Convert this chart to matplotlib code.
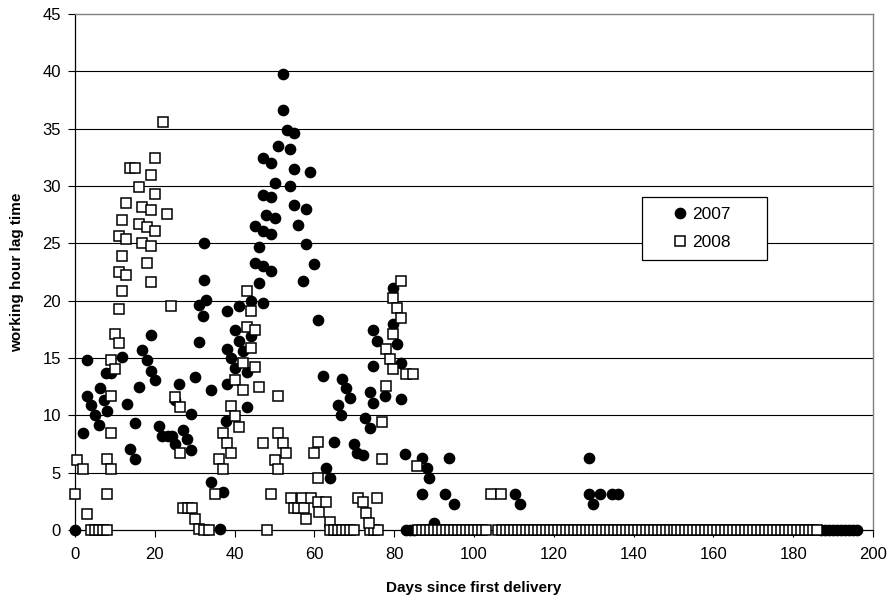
import matplotlib
matplotlib.use("Agg")
import matplotlib.pyplot as plt
from matplotlib.patches import Rectangle

plt.rcParams["font.family"] = ["Liberation Sans", "DejaVu Sans"]

# --- 2007 (filled circles) ---
days_2007 = [
    0, 1.9, 3.0, 3.0, 4.0, 4.9, 5.9, 6.2, 7.2, 8.0, 7.7, 8.9,
    11.8, 13.1, 13.9, 15.0, 15.0, 16.0, 16.9, 18.0, 19.0, 20.0, 19.0,
    21.1, 21.9, 23.2, 24.2, 25.1, 25.1, 26.0, 27.1, 28.1, 29.1, 29.1, 30.0,
    31.1, 31.1, 32.2, 32.9, 32.3, 32.3, 34.0, 34.0, 36.3, 37.1,
    52.1, 52.1, 53.2, 55.0, 51.0, 54.0, 47.1, 49.2, 55.0, 59.0, 50.2, 54.0,
    47.1, 49.2, 55.0, 57.9, 47.9, 50.2, 56.0, 45.0, 47.1, 49.2, 46.1, 57.9,
    45.0, 47.1, 49.2, 60.0, 46.1, 57.1, 44.0, 47.1, 41.1, 38.2, 60.8, 40.0,
    41.1, 44.0, 38.2, 42.1, 39.2, 40.0, 43.2, 38.2, 43.2, 37.9, 62.1, 65.8,
    66.7, 65.0, 62.9, 64.0,
    79.6, 79.6, 74.8, 75.8, 80.8, 74.8, 81.8, 66.9, 67.9, 69.0, 74.0, 74.8,
    77.8, 81.8, 72.8, 74.0, 69.8, 70.8, 72.1,
    82.8, 86.9, 93.8, 88.2, 88.8, 86.9, 92.7, 94.9, 89.9, 83, 84, 85,
    128.8, 110.3, 111.5, 128.8, 129.9, 131.6, 134.5, 136.0,
    187, 188, 189, 190, 191, 192, 193, 194, 195, 196,
]
lag_2007 = [
    0, 8.5, 14.8, 11.7, 10.9, 10.0, 9.2, 12.4, 11.3, 10.4, 13.7, 13.7,
    15.1, 11.0, 7.1, 6.2, 9.3, 12.5, 15.7, 14.8, 13.9, 13.1, 17.0,
    9.1, 8.2, 8.2, 8.2, 7.5, 11.3, 12.7, 8.7, 7.9, 7.0, 10.1, 13.3,
    16.4, 19.6, 18.7, 20.1, 21.8, 25.0, 12.2, 4.2, 0.1, 3.3,
    39.8, 36.6, 34.9, 34.6, 33.5, 33.2, 32.4, 32.0, 31.5, 31.2, 30.3, 30.0,
    29.2, 29.0, 28.3, 28.0, 27.5, 27.2, 26.6, 26.5, 26.1, 25.8, 24.7, 24.9,
    23.3, 23.0, 22.6, 23.2, 21.5, 21.7, 20.0, 19.8, 19.5, 19.1, 18.3, 17.4,
    16.5, 16.9, 15.8, 15.6, 15.0, 14.1, 13.8, 12.7, 10.7, 9.5, 13.4, 10.9,
    10.0, 7.7, 5.4, 4.5,
    21.1, 18.0, 17.4, 16.5, 16.2, 14.3, 14.6, 13.2, 12.4, 11.5, 12.0, 11.1,
    11.7, 11.4, 9.8, 8.9, 7.5, 6.7, 6.5,
    6.6, 6.3, 6.3, 5.4, 4.5, 3.1, 3.1, 2.3, 0.6, 0, 0, 0,
    6.3, 3.1, 2.3, 3.1, 2.3, 3.1, 3.1, 3.1,
    0, 0, 0, 0, 0, 0, 0, 0, 0, 0,
]

# --- 2008 (open squares) ---
days_2008 = [
    22.1, 20.1, 13.9, 15.0, 19.0, 16.0, 20.1, 12.9, 16.9, 19.0, 23.0, 11.8,
    16.0, 18.1, 20.1, 11.0, 12.9, 16.9, 19.0, 11.8, 18.0, 11.0, 12.9, 19.0,
    11.8, 11.0, 24.1, 10.0, 11.0, 8.9, 10.0, 8.9, 8.9, 0.6, 1.9, 8.0, 8.9,
    0, 8.0, 2.9, 25.1, 26.2, 26.2, 27.0, 28.2, 29.2, 30.1,
    4, 5, 6, 7, 8, 31.2, 32.4, 33.7,
    43.2, 44.0, 43.2, 45.0, 44.0, 45.0, 42.1, 40.0, 42.1, 46.1, 51.0, 39.0,
    40.0, 41.1, 37.1, 38.2, 39.2, 36.0, 37.1, 35.0, 47.1, 51.0, 52.1, 52.9,
    50.0, 51.0, 49.0, 60.8, 60.0, 60.8,
    54.2, 55.0, 56.0, 57.0, 57.5, 58.0, 59.2, 60.8, 61.2, 62.9, 63.9,
    48, 64, 65, 66, 67, 68, 69, 70, 74, 75, 76,
    81.8, 79.6, 80.8, 81.8, 79.8, 77.9, 79.0, 79.8, 82.9, 84.8, 77.9, 76.9,
    76.9, 85.7, 71.0, 72.1, 72.9, 73.8, 75.8,
    104.3, 106.8,
    86, 87, 88, 89, 90, 91, 92, 93, 94, 95, 96, 97, 98, 99, 100, 101, 102,
    103, 106, 107, 108, 109, 110, 111, 112, 113, 114, 115, 116, 117, 118,
    119, 120, 121, 122, 123, 124, 125, 126, 127, 128, 129, 130, 131, 132,
    133, 134, 135, 136, 137, 138, 139, 140, 141, 142, 143, 144, 145, 146,
    147, 148, 149, 150, 151, 152, 153, 154, 155, 156, 157, 158, 159, 160,
    161, 162, 163, 164, 165, 166, 167, 168, 169, 170, 171, 172, 173, 174,
    175, 176, 177, 178, 179, 180, 181, 182, 183, 184, 185, 186,
]
lag_2008 = [
    35.6, 32.4, 31.6, 31.6, 31.0, 29.9, 29.3, 28.5, 28.2, 27.9, 27.6, 27.0,
    26.7, 26.4, 26.1, 25.6, 25.4, 25.0, 24.8, 23.9, 23.3, 22.5, 22.2, 21.6,
    20.8, 19.3, 19.5, 17.1, 16.3, 14.8, 14.0, 11.7, 8.5, 6.1, 5.3, 6.2, 5.3,
    3.1, 3.1, 1.4, 11.6, 10.7, 6.7, 1.9, 1.9, 1.9, 1.0,
    0, 0, 0, 0, 0, 0.1, 0, 0,
    20.8, 19.1, 17.7, 17.4, 15.9, 14.2, 14.6, 13.1, 12.2, 12.5, 11.7, 10.8,
    9.9, 9.0, 8.5, 7.6, 6.7, 6.2, 5.3, 3.1, 7.6, 8.5, 7.6, 6.7,
    6.1, 5.3, 3.1, 7.7, 6.7, 4.5,
    2.8, 1.9, 1.9, 2.8, 1.9, 1.0, 2.8, 2.4, 1.6, 2.4, 0.7,
    0, 0, 0, 0, 0, 0, 0, 0, 0, 0, 0,
    21.7, 20.2, 19.4, 18.5, 17.1, 15.8, 14.9, 14.0, 13.6, 13.6, 12.6, 9.4,
    6.2, 5.6, 2.8, 2.4, 1.5, 0.6, 2.8,
    3.1, 3.1,
    0, 0, 0, 0, 0, 0, 0, 0, 0, 0, 0, 0, 0, 0, 0, 0, 0,
    0, 0, 0, 0, 0, 0, 0, 0, 0, 0, 0, 0, 0, 0, 0,
    0, 0, 0, 0, 0, 0, 0, 0, 0, 0, 0, 0, 0, 0,
    0, 0, 0, 0, 0, 0, 0, 0, 0, 0, 0, 0, 0, 0,
    0, 0, 0, 0, 0, 0, 0, 0, 0, 0, 0, 0, 0, 0,
    0, 0, 0, 0, 0, 0, 0, 0, 0, 0, 0, 0, 0, 0,
    0, 0, 0, 0, 0, 0, 0, 0, 0, 0, 0,
]

x_ticks = list(range(0, 201, 20))
y_ticks = list(range(0, 46, 5))

fig = plt.figure(figsize=(8.88, 6.04), dpi=100)
ax = fig.add_axes([75 / 888, 1 - 530 / 604, 798 / 888, 516 / 604])

# horizontal gridlines
for yv in y_ticks[1:-1]:
    ax.axhline(yv, color="black", linewidth=0.8, zorder=1)

ax.plot(days_2007, lag_2007, linestyle="none", marker="o", markersize=7.4,
        color="black", clip_on=False, zorder=3, label="2007")
ax.plot(days_2008, lag_2008, linestyle="none", marker="s", markersize=6.7,
        markerfacecolor="white", markeredgecolor="black", markeredgewidth=1.1,
        clip_on=False, zorder=4, label="2008")

ax.set_xlim(0, 200)
ax.set_ylim(0, 45)
ax.set_xticks(x_ticks)
ax.set_yticks(y_ticks)
ax.tick_params(direction="out", length=5, width=0.8, labelsize=12)
ax.tick_params(axis="x", pad=7)
ax.tick_params(axis="y", pad=5)

for side in ["top", "right"]:
    ax.spines[side].set_color("#808080")
    ax.spines[side].set_linewidth(1.0)
for side in ["left", "bottom"]:
    ax.spines[side].set_color("black")
    ax.spines[side].set_linewidth(0.9)

ax.set_xlabel("Days since first delivery", fontsize=11, fontweight="bold", labelpad=14)
ax.set_ylabel("working hour lag time", fontsize=11, fontweight="bold", labelpad=13)

# --- legend box ---
bx0, bx1 = (642 - 75) / 798, (767 - 75) / 798
by0, by1 = (530 - 260) / 516, (530 - 197) / 516
ax.add_patch(Rectangle((bx0, by0), bx1 - bx0, by1 - by0, transform=ax.transAxes,
                       facecolor="white", edgecolor="black", linewidth=0.9, zorder=5))
leg = ax.legend(loc="center", bbox_to_anchor=((bx0 + bx1) / 2 - 0.005, (by0 + by1) / 2),
                frameon=False, fontsize=12.5, handletextpad=0.2, labelspacing=0.75,
                handlelength=1.0)
leg.set_zorder(6)

fig.savefig("out.png", dpi=100)
